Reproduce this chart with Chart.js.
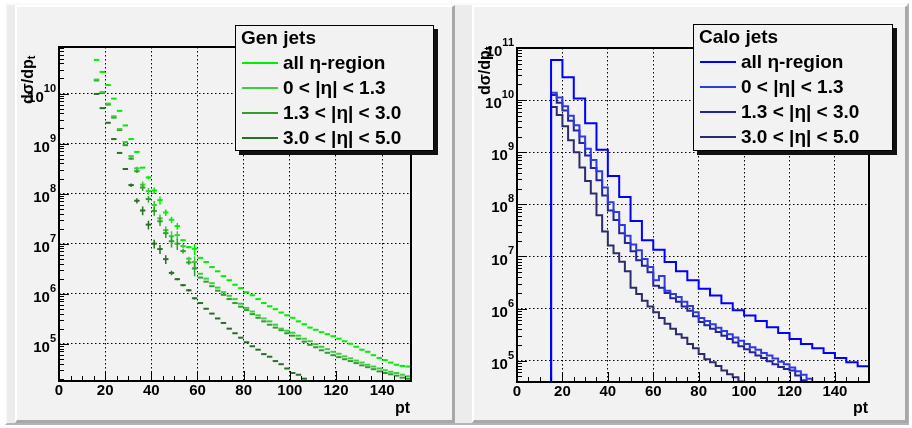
<!doctype html>
<html lang="en">
<head>
<meta charset="utf-8">
<title>Jet pt spectra</title>
<style>
  body { margin: 0; width: 912px; height: 428px; position: relative; overflow: hidden; background: #ffffff;
         font-family: "Liberation Sans", Arial, sans-serif; font-weight: bold; color: #000; }
  .outer { position: absolute; left: 5px; top: 3px; width: 904px; height: 422px; background: #ececec;
           box-sizing: border-box; border-top: 2px solid #fafafa; border-left: 2px solid #fafafa;
           border-right: 2px solid #b4b4b4; border-bottom: 2px solid #b4b4b4; }
  .pad { position: absolute; background: #f2f2f2; box-sizing: border-box;
         border-top: 2px solid #ffffff; border-left: 2px solid #ffffff;
         border-right: 3px solid #a8a8a8; border-bottom: 3px solid #a8a8a8; }
  canvas { position: absolute; top: 0; }
  .legend { position: absolute; background: #f2f2f2; border: 1px solid #000; box-sizing: border-box;
            box-shadow: 4px 4px 0 0 #111; }
  .legend div { position: absolute; font-size: 19px; line-height: 22px; white-space: nowrap; }
  .legend span { position: absolute; left: 6px; width: 36px; height: 2px; }
  .ytitle { position: absolute; font-size: 16px; white-space: nowrap; transform-origin: 0 0; transform: rotate(-90deg); }
  .ytitle sub { font-size: 11px; vertical-align: -2px; }
  .xtitle { position: absolute; font-size: 16px; }
</style>
</head>
<body>
<div class="outer"></div>
<div class="pad" style="left:15px;top:5px;width:440px;height:418px"></div>
<div class="pad" style="left:472px;top:5px;width:436px;height:418px"></div>
<canvas id="genChart" width="456" height="428" style="left:0"></canvas>
<canvas id="caloChart" width="456" height="428" style="left:456px"></canvas>

<div class="ytitle" style="left:19px;top:104px">dσ/dp<sub>t</sub></div>
<div class="ytitle" style="left:476px;top:95px">dσ/dp<sub>t</sub></div>
<div class="xtitle" style="left:395px;top:399px">pt</div>
<div class="xtitle" style="left:853px;top:399px">pt</div>

<div class="legend" id="genLegend" style="left:235px;top:25px;width:199px;height:126px"></div>
<div class="legend" id="caloLegend" style="left:693px;top:24px;width:200px;height:127px"></div>

<script src="https://cdn.jsdelivr.net/npm/chart.js@4.4.1/dist/chart.umd.min.js"></script>
<script>
// ---- data ----
const etaLabels = ['all \u03b7-region', '0 < |\u03b7| < 1.3', '1.3 < |\u03b7| < 3.0', '3.0 < |\u03b7| < 5.0'];
const ptTicks = [0, 20, 40, 60, 80, 100, 120, 140];
const genDecades = [1e5, 1e6, 1e7, 1e8, 1e9, 1e10];
const caloDecades = [1e5, 1e6, 1e7, 1e8, 1e9, 1e10, 1e11];

// Gen jets: 2.5 GeV bins starting at pt = 15
const genBinLow = 15, genBinWidth = 2.5;
const genAll = [4.7e10, 2.7e10, 1.48e10, 7.9e9, 4.5e9, 2.3e9, 1.23e9, 6.8e8, 3.3e8, 2.1e8,
  1.15e8, 7.4e7, 4.2e7, 3.0e7, 2.24e7, 1.17e7, 8.5e6, 7.9e6, 5.2e6, 4.3e6,
  3.4e6, 2.8e6, 2.24e6, 1.86e6, 1.51e6, 1.29e6, 1.07e6, 9.3e5, 7.8e5, 6.5e5,
  5.6e5, 4.9e5, 4.2e5, 3.7e5, 3.3e5, 2.8e5, 2.45e5, 2.1e5, 1.9e5, 1.7e5,
  1.55e5, 1.41e5, 1.26e5, 1.12e5, 1.0e5, 8.7e4, 7.6e4, 6.9e4, 5.9e4, 5.2e4,
  4.7e4, 4.2e4, 3.8e4, 3.6e4, 3.5e4];
const genEta1 = [1.9e10, 1.07e10, 6.3e9, 3.5e9, 1.95e9, 1.07e9, 5.6e8, 3.2e8, 1.51e8, 1.12e8,
  5.9e7, 3.2e7, 1.86e7, 1.41e7, 1.48e7, 8.9e6, 5.0e6, 4.3e6, 2.5e6, 2.0e6,
  1.62e6, 1.32e6, 1.07e6, 9.1e5, 7.8e5, 6.3e5, 5.2e5, 4.4e5, 3.7e5, 3.2e5,
  2.8e5, 2.4e5, 2.0e5, 1.82e5, 1.66e5, 1.45e5, 1.26e5, 1.12e5, 9.8e4, 8.7e4,
  7.8e4, 6.9e4, 6.3e4, 5.6e4, 5.1e4, 4.6e4, 4.2e4, 3.8e4, 3.5e4, 3.2e4,
  2.95e4, 2.75e4, 2.6e4, 2.4e4, 2.24e4];
const genEta2 = [1.82e10, 1.02e10, 6.0e9, 3.3e9, 1.86e9, 9.3e8, 5.0e8, 2.8e8, 1.32e8, 7.8e7,
  4.5e7, 2.8e7, 1.62e7, 1.12e7, 1.0e7, 7.1e6, 4.2e6, 3.2e6, 2.1e6, 1.74e6,
  1.41e6, 1.15e6, 9.5e5, 7.8e5, 6.5e5, 5.5e5, 4.7e5, 3.9e5, 3.3e5, 2.8e5,
  2.4e5, 2.1e5, 1.86e5, 1.62e5, 1.45e5, 1.26e5, 1.10e5, 9.5e4, 8.5e4, 7.4e4,
  6.6e4, 5.9e4, 5.4e4, 4.9e4, 4.5e4, 4.1e4, 3.7e4, 3.4e4, 3.1e4, 2.8e4,
  2.6e4, 2.45e4, 2.3e4, 2.1e4, 2.0e4];
const genEta3 = [9.8e9, 5.1e9, 2.6e9, 1.23e9, 6.5e8, 3.1e8, 1.48e8, 7.2e7, 4.6e7, 2.4e7,
  1.0e7, 7.8e6, 4.9e6, 2.6e6, 1.95e6, 1.48e6, 1.17e6, 8.1e5, 6.5e5, 5.0e5,
  4.0e5, 3.2e5, 2.6e5, 2.0e5, 1.62e5, 1.32e5, 1.07e5, 8.9e4, 7.6e4, 6.2e4,
  5.5e4, 4.5e4, 3.9e4, 3.2e4, 2.6e4, 2.4e4, 2.0e4, 1.74e4];
// relative errors of the first bins (the rest are too small to see)
const genAllErr = [0, 0, 0, 0, 0, 0, 0, 0, 0, 0.08, 0.15, 0.18, 0.15, 0.15, 0.15, 0.05, 0.05, 0.25];
const genEta1Err = [0, 0, 0, 0, 0, 0, 0.05, 0.08, 0.15, 0.15, 0.2, 0.2, 0.2, 0.25, 0.2, 0.1, 0.1, 0.3];
const genEta2Err = [0, 0, 0, 0, 0, 0, 0.05, 0.08, 0.15, 0.15, 0.2, 0.2, 0.2, 0.25, 0.25, 0.1, 0.1, 0.3];
const genEta3Err = [0, 0, 0, 0, 0, 0, 0.08, 0.12, 0.2, 0.2, 0.2, 0.2, 0.2, 0.1, 0.05, 0.05, 0.05, 0.05];

// Calo jets: "all" in 5 GeV bins, eta slices in 2.5 GeV bins, all starting at pt = 15
const caloAllLow = 15, caloAllWidth = 5;
const caloEtaLow = 15, caloEtaWidth = 2.5;
const caloAll = [5.9e10, 2.75e10, 1.07e10, 3.6e9, 1.12e9, 3.5e8, 1.38e8, 4.8e7, 2.05e7, 1.35e7,
  7.8e6, 5.2e6, 3.5e6, 2.4e6, 1.78e6, 1.26e6, 9.3e5, 7.4e5, 5.8e5, 4.4e5,
  3.4e5, 2.6e5, 2.1e5, 1.74e5, 1.41e5, 1.12e5, 9.3e4, 7.8e4];
const caloEta1 = [1.38e10, 1.12e10, 7.6e9, 5.0e9, 3.3e9, 2.0e9, 1.17e9, 7.1e8, 4.3e8, 2.1e8,
  1.1e8, 7.1e7, 4.0e7, 2.5e7, 1.7e7, 1.32e7, 8.9e6, 6.3e6, 3.5e6, 4.2e6,
  2.2e6, 1.9e6, 1.66e6, 1.35e6, 1.12e6, 8.5e5, 6.6e5, 5.8e5, 5.0e5, 4.3e5,
  3.7e5, 3.2e5, 2.8e5, 2.4e5, 2.1e5, 1.82e5, 1.62e5, 1.41e5, 1.26e5, 1.10e5,
  9.5e4, 8.5e4, 7.4e4, 6.3e4, 5.4e4, 4.5e4, 3.8e4, 3.2e4];
const caloEta2 = [1.26e10, 8.9e9, 6.3e9, 4.0e9, 2.6e9, 1.5e9, 8.7e8, 5.0e8, 2.9e8, 1.48e8,
  7.6e7, 5.0e7, 2.8e7, 1.82e7, 1.26e7, 8.5e6, 6.6e6, 5.0e6, 2.75e6, 2.5e6,
  2.0e6, 1.58e6, 1.35e6, 1.10e6, 9.1e5, 7.1e5, 5.5e5, 4.8e5, 4.1e5, 3.55e5,
  3.0e5, 2.6e5, 2.24e5, 1.9e5, 1.66e5, 1.45e5, 1.26e5, 1.12e5, 9.8e4, 8.5e4,
  7.6e4, 6.9e4, 6.5e4, 5.2e4, 4.2e4, 3.4e4, 2.8e4];
const caloEta3 = [7.4e9, 5.2e9, 3.16e9, 1.7e9, 1.0e9, 5.1e8, 2.8e8, 1.62e8, 6.2e7, 3.0e7,
  1.62e7, 1.15e7, 7.9e6, 5.2e6, 2.5e6, 1.9e6, 1.41e6, 1.10e6, 8.5e5, 6.6e5,
  5.1e5, 4.1e5, 3.2e5, 2.75e5, 2.1e5, 1.74e5, 1.35e5, 1.07e5, 9.3e4, 7.9e4,
  6.5e4, 5.5e4, 4.8e4, 4.0e4, 3.3e4];

// axis ranges
const genX = [0, 152.5], genY = [1.8e4, 8.5e10];
const caloX = [0, 155], caloY = [3.9e4, 1e11];

// ---- styles ----
const genColors = ['#00ee00', '#3ccf3c', '#2f9f2f', '#2a6e2a'];
const caloColors = ['#0000ff', '#2e3be0', '#22249e', '#2c2c6c'];
const FONT = '"Liberation Sans", Arial, sans-serif';

function genPoints(vals, errs) {
  return vals.map((v, i) => ({ x: genBinLow + genBinWidth * (i + 0.5), y: v, err: errs[i] || 0 }));
}

// histogram outline: empty bins below the first edge sit on the axis floor
function histPoints(low, width, vals, floor) {
  const pts = [{ x: 0, y: floor }];
  vals.forEach((v, i) => pts.push({ x: low + width * i, y: Math.max(v, floor) }));
  pts.push({ x: low + width * vals.length, y: Math.max(vals[vals.length - 1], floor) });
  return pts;
}

const rootStyle = {
  id: 'rootStyle',
  afterDatasetsDraw(chart) {
    const { ctx, chartArea: a, scales: { y } } = chart;
    ctx.save();
    ctx.beginPath();
    ctx.rect(a.left, a.top, a.width, a.height);
    ctx.clip();
    chart.data.datasets.forEach((ds, di) => {
      if (!ds.errorBars) return;
      const meta = chart.getDatasetMeta(di);
      ctx.strokeStyle = ds.borderColor;
      ctx.lineWidth = 1.5;
      ctx.beginPath();
      ds.data.forEach((p, i) => {
        if (!p.err) return;
        const el = meta.data[i];
        ctx.moveTo(el.x, y.getPixelForValue(p.y * (1 + p.err)));
        ctx.lineTo(el.x, y.getPixelForValue(p.y * (1 - p.err)));
      });
      ctx.stroke();
    });
    ctx.restore();
  },
  afterDraw(chart) {
    const { ctx, chartArea: a, scales: { x, y } } = chart;
    ctx.save();
    ctx.strokeStyle = '#000';
    ctx.lineWidth = 1;
    ctx.beginPath();
    for (let v = x.min; v <= x.max; v += 5) {
      const px = Math.round(x.getPixelForValue(v)) + 0.5;
      const len = v % 20 === 0 ? 10 : 5;
      ctx.moveTo(px, a.bottom);
      ctx.lineTo(px, a.bottom - len);
    }
    const k0 = Math.floor(Math.log10(y.min)), k1 = Math.ceil(Math.log10(y.max));
    for (let k = k0; k <= k1; k++) {
      for (let m = 1; m < 10; m++) {
        const v = m * Math.pow(10, k);
        if (v < y.min || v > y.max) continue;
        const py = Math.round(y.getPixelForValue(v)) + 0.5;
        ctx.moveTo(a.left, py);
        ctx.lineTo(a.left + (m === 1 ? 10 : 5), py);
      }
    }
    ctx.stroke();
    ctx.lineWidth = 2;
    ctx.strokeRect(a.left, a.top, a.width, a.height);

    ctx.fillStyle = '#000';
    ctx.textBaseline = 'middle';
    ctx.textAlign = 'center';
    ctx.font = 'bold 15px ' + FONT;
    ptTicks.forEach(v => ctx.fillText(String(v), x.getPixelForValue(v), a.bottom + 10));

    ctx.textAlign = 'right';
    y.ticks.forEach(t => {
      const py = y.getPixelForValue(t.value);
      const exp = String(Math.round(Math.log10(t.value)));
      ctx.font = 'bold 11px ' + FONT;
      const ew = ctx.measureText(exp).width;
      const right = a.left - 3;
      ctx.fillText(exp, right, py - 5);
      ctx.font = 'bold 15px ' + FONT;
      ctx.fillText('10', right - ew, py + 4);
    });
    ctx.restore();
  }
};

function makeChart(id, datasets, xr, yr, decades, pad) {
  return new Chart(document.getElementById(id), {
    data: { datasets: datasets },
    options: {
      responsive: false,
      animation: false,
      devicePixelRatio: 1,
      layout: { padding: pad },
      plugins: { legend: { display: false }, tooltip: { enabled: false } },
      scales: {
        x: {
          type: 'linear', min: xr[0], max: xr[1],
          afterBuildTicks: s => { s.ticks = ptTicks.map(v => ({ value: v })); },
          ticks: { display: false },
          grid: { color: '#000', lineWidth: 1, drawTicks: false },
          border: { display: false, dash: [1.5, 2.5] }
        },
        y: {
          type: 'logarithmic', min: yr[0], max: yr[1],
          afterBuildTicks: s => { s.ticks = decades.map(v => ({ value: v })); },
          ticks: { display: false },
          grid: { color: '#000', lineWidth: 1, drawTicks: false },
          border: { display: false, dash: [1.5, 2.5] }
        }
      }
    },
    plugins: [rootStyle]
  });
}

const genSets = [genAll, genEta1, genEta2, genEta3].map((vals, i) => ({
  type: 'scatter',
  label: etaLabels[i],
  data: genPoints(vals, [genAllErr, genEta1Err, genEta2Err, genEta3Err][i]),
  borderColor: genColors[i],
  backgroundColor: genColors[i],
  pointStyle: 'line',
  pointRadius: 2.7,
  pointBorderWidth: 2,
  errorBars: true
}));

const caloSets = [
  { vals: caloAll, low: caloAllLow, width: caloAllWidth },
  { vals: caloEta1, low: caloEtaLow, width: caloEtaWidth },
  { vals: caloEta2, low: caloEtaLow, width: caloEtaWidth },
  { vals: caloEta3, low: caloEtaLow, width: caloEtaWidth }
].map((h, i) => ({
  type: 'line',
  label: etaLabels[i],
  data: histPoints(h.low, h.width, h.vals, caloY[0]),
  borderColor: caloColors[i],
  borderWidth: 2,
  pointRadius: 0,
  stepped: true,
  fill: false
}));

makeChart('genChart', genSets, genX, genY, genDecades, { left: 59, top: 47, right: 45, bottom: 47 });
makeChart('caloChart', caloSets, caloX, caloY, caloDecades, { left: 61, top: 48, right: 43, bottom: 46 });

function buildLegend(id, title, colors) {
  const box = document.getElementById(id);
  const t = document.createElement('div');
  t.textContent = title;
  t.style.left = '5px';
  t.style.top = '1px';
  box.appendChild(t);
  etaLabels.forEach((lab, i) => {
    const row = document.createElement('div');
    row.style.left = '0px';
    row.style.top = (26 + 25 * i) + 'px';
    row.style.width = '100%';
    const line = document.createElement('span');
    line.style.background = colors[i];
    line.style.top = '10px';
    const txt = document.createElement('b');
    txt.textContent = lab;
    txt.style.marginLeft = '47px';
    row.appendChild(line);
    row.appendChild(txt);
    box.appendChild(row);
  });
}
buildLegend('genLegend', 'Gen jets', genColors);
buildLegend('caloLegend', 'Calo jets', caloColors);
</script>
</body>
</html>
